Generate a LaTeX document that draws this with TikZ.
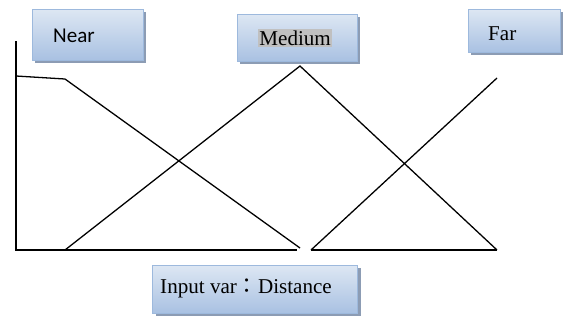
\documentclass[tikz,border=0pt]{standalone}
\usepackage{fontspec}
\setmainfont{Liberation Serif}
\newfontfamily\calfont{Carlito}
\newfontfamily\cjk{Noto Sans CJK TC}
\usepackage{tikz}
\usetikzlibrary{shadows}

\tikzset{
    setbox/.style={draw=BoxLine, line width=0.8pt, left color=BoxLight, right color=BoxDark,
        shading angle=0, minimum height=51*0.03cm, inner sep=0pt,
        drop shadow={shadow xshift=0.09cm, shadow yshift=-0.09cm, fill=ShadowCol, opacity=1}},
    settext/.style={anchor=west, inner sep=0pt, font=\fontsize{18}{18}\selectfont},
    mf/.style={line width=1.1pt, line join=miter}
}
\definecolor{BoxLine}{HTML}{9DB9DD}
\definecolor{BoxLight}{HTML}{DDE7F3}
\definecolor{BoxDark}{HTML}{A9C1E2}
\definecolor{ShadowCol}{HTML}{8C9CB4}
\definecolor{HiGray}{HTML}{C0C0C0}

\begin{document}
\begin{tikzpicture}[x=0.03cm, y=-0.03cm]
    \useasboundingbox (0,0) rectangle (563,324);
    \node[setbox, minimum width=111*0.03cm] (near) at (87.5,34.5) {};
    \node[setbox, minimum width=120*0.03cm, minimum height=47*0.03cm] (medium) at (297,37.5) {};
    \node[setbox, minimum width=92*0.03cm, minimum height=43*0.03cm] (far) at (514,30.5) {};
    \node[setbox, minimum width=205*0.03cm, minimum height=48*0.03cm] (input) at (255,289) {};

    \node[settext] (neartext) at (53,36) {\calfont Near};
    \node[settext] (mediumtext) at (258,38) {\fboxsep=1pt\colorbox{HiGray}{Medium}};
    \node[settext] (fartext) at (488,34) {Far};
    \node[settext] (inputtext) at (160,288) {Input var{\cjk ：}Distance};

    \coordinate (top) at (16,41);
    \coordinate (origin) at (16,250);
    \coordinate (axisend) at (297,250);
    \coordinate (nearstart) at (16,76);
    \coordinate (nearknee) at (65,79);
    \coordinate (nearend) at (300,248);
    \coordinate (medleft) at (65,250);
    \coordinate (medpeak) at (300,66);
    \coordinate (medright) at (497,250);
    \coordinate (farleft) at (311,250);
    \coordinate (farpeak) at (497,78);

    \draw[mf] (top) -- (origin) -- (axisend);
    \draw[mf] (nearstart) -- (nearknee) -- (nearend);
    \draw[mf] (medleft) -- (medpeak) -- (medright);
    \draw[mf] (farleft) -- (farpeak);
    \draw[mf] (farleft) -- (medright);
\end{tikzpicture}
\end{document}
